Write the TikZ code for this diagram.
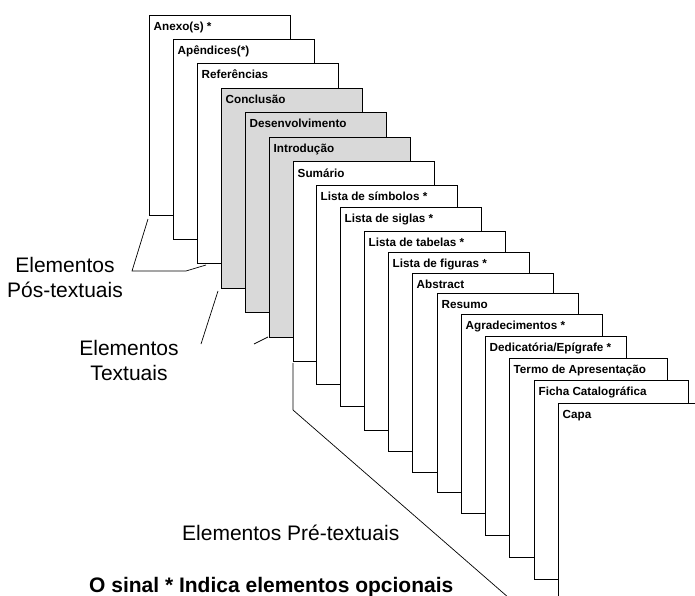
\documentclass[tikz,border=0pt]{standalone}
\usepackage{fontspec}
\setmainfont{Liberation Sans}
\definecolor{textshade}{RGB}{217,217,217}
\tikzset{pagebox/.style={draw=black, line width=1pt, fill=white},
  pagetitle/.style={anchor=base west, inner sep=0pt, font=\bfseries\fontsize{11.7}{14}\selectfont},
  bracket/.style={draw=black, line width=0.7pt},
  bigtext/.style={inner sep=0pt, align=center, font=\fontsize{21}{24.5}\selectfont},
  notetext/.style={inner sep=0pt, anchor=base west, font=\bfseries\fontsize{21}{24}\selectfont}}

\begin{document}
\begin{tikzpicture}[x=1pt,y=-1pt]
   \useasboundingbox (0,0) rectangle (695,596);
   \clip (0,0) rectangle (695,596);
   \foreach \x/\y/\w/\c/\name [count=\i from 0] in {
      149/16/141/white/{Anexo(s) *},
      173/40/141/white/{Apêndices(*)},
      197/64/141/white/{Referências},
      221/89/141/textshade/{Conclusão},
      245/113/141/textshade/{Desenvolvimento},
      269/138/141/textshade/{Introdução},
      293/162/141/white/{Sumário},
      316/185/141/white/{Lista de símbolos *},
      340/207/141/white/{Lista de siglas *},
      364/231/141/white/{Lista de tabelas *},
      388/252/141/white/{Lista de figuras *},
      412/273/141/white/{Abstract},
      437/293/141/white/{Resumo},
      461/314/141/white/{Agradecimentos *},
      485/336/141/white/{Dedicatória/Epígrafe *},
      509/358/158/white/{Termo de Apresentação},
      534/380/154/white/{Ficha Catalográfica},
      558/403/150/white/{Capa}} {
      \filldraw[pagebox, fill=\c] (\x,\y) rectangle ++(\w,199);
      \coordinate (b\i) at (\x,\y+199);
      \node[pagetitle] (t\i) at (\x+4.5,\y+15) {\name};
   }
   \coordinate (posA) at (132,271);
   \coordinate (posB) at (186,271);
   \coordinate (texA) at (201,344);
   \coordinate (texB) at (254,344);
   \coordinate (preA) at (293,410);
   \coordinate (preB) at (509,598);
   \draw[bracket] ([shift={(-1,4)}]b0) -- (posA) -- (posB) -- ([shift={(9,2)}]b2);
   \draw[bracket] ([shift={(-3,3)}]b3) -- (texA);
   \draw[bracket] (texB) -- ([shift={(-1,0)}]b5);
   \draw[bracket] ([shift={(0,2)}]b6) -- (preA) -- (preB);
   \node[bigtext] (lpos) at (65,277.5) {Elementos\\Pós-textuais};
   \node[bigtext] (ltex) at (129,360.5) {Elementos\\Textuais};
   \node[bigtext, anchor=base west] (lpre) at (182,540) {Elementos Pré-textuais};
   \node[notetext] (nota) at (89,592) {O sinal * Indica elementos opcionais};
\end{tikzpicture}
\end{document}
